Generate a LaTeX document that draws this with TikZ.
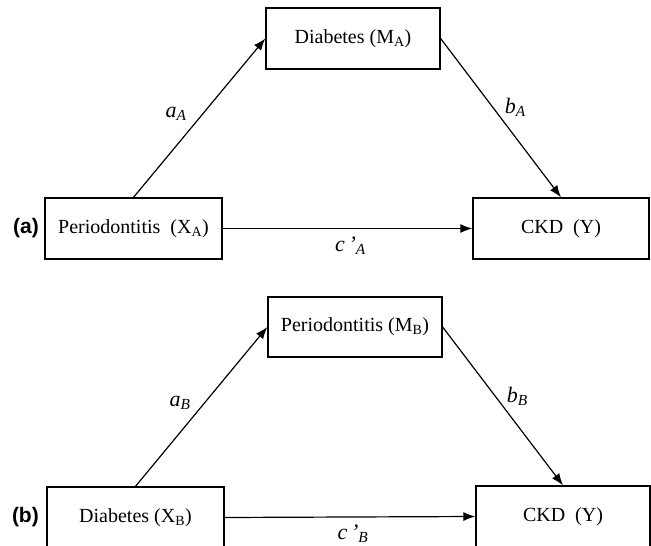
\documentclass[tikz,border=0pt]{standalone}
\usepackage{fontspec}
\setmainfont{Liberation Serif}
\newfontfamily\panelfont{Liberation Sans}
\usepackage{tikz}
\usetikzlibrary{positioning, arrows.meta}

\begin{document}
\begin{tikzpicture}[x=1pt, y=-1pt, font=\fontsize{20}{24}\selectfont,
    box/.style={rectangle, draw, line width=1.3pt, minimum height=61pt, inner sep=0pt},
    path/.style={-{Latex[length=12pt, width=9pt]}, line width=1.2pt},
    coef/.style={font=\fontsize{22}{26}\selectfont\itshape},
    panel/.style={font=\fontsize{21}{24}\selectfont\panelfont\bfseries}]
    \useasboundingbox (0,0) rectangle (651,546);

    % Panel (a)
    \node[box, minimum width=174pt] (MA) at (353,38.5) {Diabetes (M\textsubscript{A})};
    \node[box, minimum width=177pt] (XA) at (133.5,228.5) {Periodontitis\ \ (X\textsubscript{A})};
    \node[box, minimum width=176pt] (YA) at (561,228.5) {CKD\ \ (Y)};
    \node[panel, left=2pt of XA] (pa) {(a)};

    \draw[path] (XA.north) -- node[coef, midway, left=9pt, yshift=4pt] (aA) {a\textsubscript{A}} (MA.west);
    \draw[path] (MA.east) -- node[coef, midway, above right=0pt, yshift=-3pt] (bA) {b\textsubscript{A}} (YA.north);
    \draw[path] (XA.east) -- node[coef, midway, below=4pt, xshift=3pt] (cA) {c\,’\textsubscript{A}} (YA.west);

    % Panel (b)
    \node[box, minimum width=174pt, minimum height=60pt] (MB) at (355,327) {Periodontitis (M\textsubscript{B})};
    \node[box, minimum width=177pt] (XB) at (135.5,517.5) {Diabetes (X\textsubscript{B})};
    \node[box, minimum width=174pt] (YB) at (563,516.5) {CKD\ \ (Y)};
    \node[panel, left=4pt of XB] (pb) {(b)};

    \draw[path] (XB.north) -- node[coef, midway, left=7pt, yshift=4pt] (aB) {a\textsubscript{B}} (MB.west);
    \draw[path] (MB.east) -- node[coef, midway, above right=0pt, yshift=-3pt] (bB) {b\textsubscript{B}} (YB.north);
    \draw[path] (XB.east) -- node[coef, midway, below=4pt, xshift=3pt] (cB) {c\,’\textsubscript{B}} (YB.west);
\end{tikzpicture}
\end{document}
